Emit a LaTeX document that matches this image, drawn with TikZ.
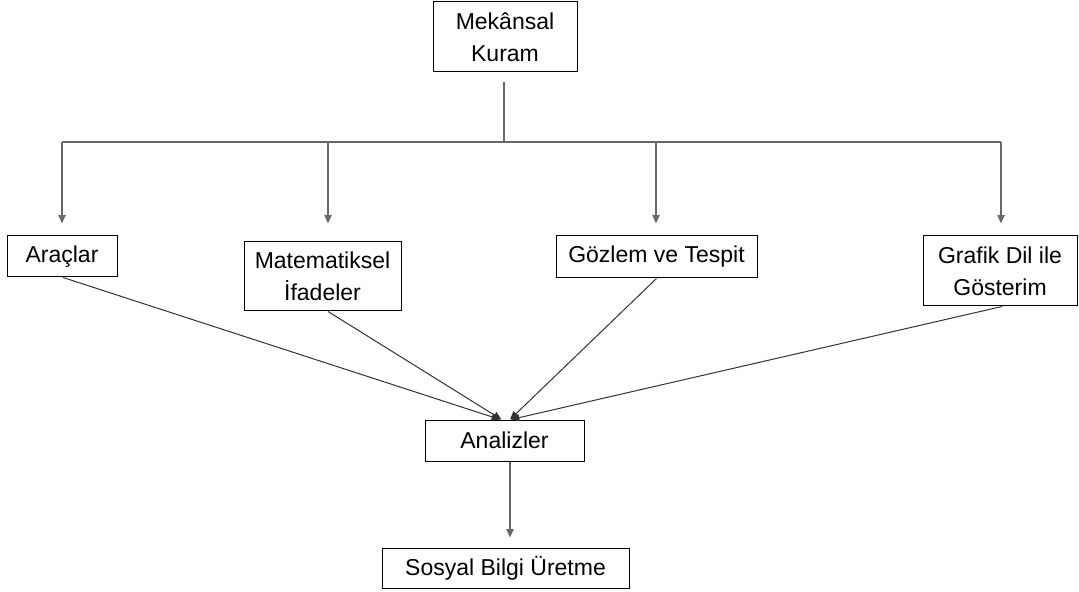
\documentclass[tikz,border=0pt]{standalone}
\usepackage{fontspec}
\setmainfont{Liberation Sans}
\usetikzlibrary{arrows.meta}
\definecolor{linegray}{RGB}{105,105,105}
\definecolor{diaggray}{RGB}{50,50,50}
\begin{document}
\begin{tikzpicture}[x=0.5pt,y=-0.5pt,
  box/.style={draw=black,line width=0.5pt,inner sep=0pt,align=center,font=\fontsize{11.5}{16}\selectfont},
  tree/.style={draw=linegray,line width=0.7pt},
  arr/.style={-{Triangle[width=3.6pt,length=4.2pt]}},
  diag/.style={draw=diaggray,line width=0.5pt}]
\useasboundingbox (0,0) rectangle (1079,592);
\node[box,minimum width=72pt,minimum height=35pt] (mek) at (505,37) {Mekânsal\\Kuram};
\node[box,minimum width=55pt,minimum height=20.5pt] (ara) at (62,256.5) {Araçlar};
\node[box,minimum width=78.5pt,minimum height=34.5pt] (mat) at (322.5,276.5) {Matematiksel\\İfadeler};
\node[box,minimum width=100.5pt,minimum height=21pt] (goz) at (656.5,257) {Gözlem ve Tespit};
\node[box,minimum width=77pt,minimum height=35pt] (graf) at (1000,271) {Grafik Dil ile\\Gösterim};
\node[box,minimum width=79.5pt,minimum height=20.5pt] (ana) at (504.5,440.5) {Analizler};
\node[box,minimum width=123.5pt,minimum height=20pt] (sos) at (505.5,568) {Sosyal Bilgi Üretme};
% tree
\coordinate (j) at (504,142);
\coordinate (t1) at (62,142);
\coordinate (t2) at (328,142);
\coordinate (t3) at (656,142);
\coordinate (t4) at (1001,142);
\draw[tree] ([yshift=-5pt]mek.south -| j) -- (j);
\draw[tree] (t1) -- (t4);
\draw[tree,arr,shorten >=6pt] (t1) -- (t1 |- ara.north);
\draw[tree,arr,shorten >=9pt] (t2) -- (t2 |- mat.north);
\draw[tree,arr,shorten >=6pt] (t3) -- (t3 |- goz.north);
\draw[tree,arr,shorten >=6pt] (t4) -- (t4 |- graf.north);
% to analizler
\draw[diag,arr] ([xshift=0.5pt]ara.south) -- ([xshift=-2.25pt]ana.north);
\draw[diag,arr] ([xshift=2.75pt]mat.south) -- ([xshift=-1.5pt]ana.north);
\draw[diag,arr] (goz.south) -- ([xshift=2.75pt]ana.north);
\draw[diag,arr] ([xshift=1pt]graf.south) -- ([xshift=3.25pt]ana.north);
\draw[tree,arr,shorten >=5pt] ([xshift=2.75pt]ana.south) -- ([xshift=2.25pt]sos.north);
\end{tikzpicture}
\end{document}
